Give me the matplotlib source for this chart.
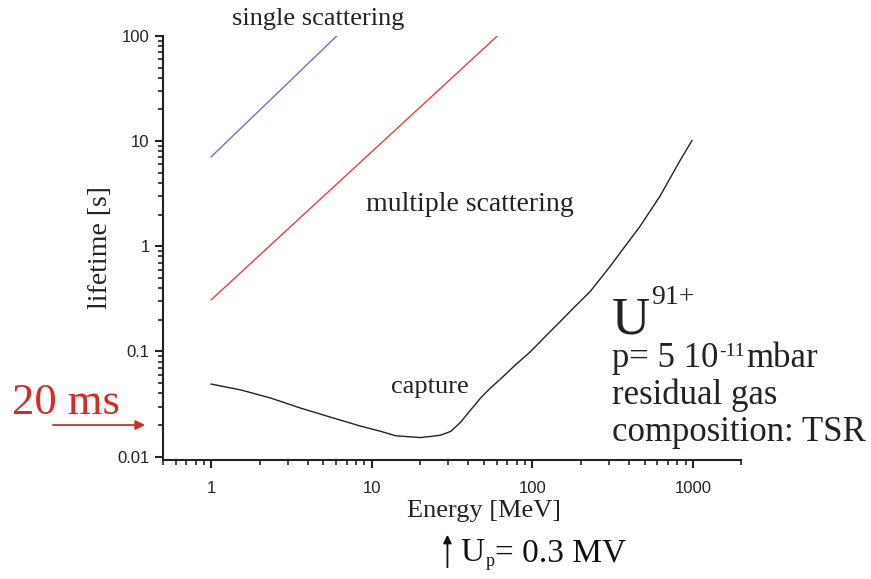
import numpy as np
import matplotlib.pyplot as plt
from matplotlib.ticker import LogLocator, FuncFormatter
import matplotlib.transforms as mtransforms

# energies [MeV] and lifetimes [s]
single_E = [1.0, 6.06]
single_tau = [7.1, 100.0]

multiple_E = [1.0, 60.6]
multiple_tau = [0.31, 100.0]

capture_E = [1.0, 1.54, 2.36, 3.62, 5.56, 8.55, 11.4, 14.1, 20.1, 26.8, 31.0,
             35.7, 41.2, 47.5, 54.8, 63.3, 78.4, 97.0, 120.0, 149.0, 184.0,
             229.0, 305.0, 378.0, 469.0, 624.0, 830.0, 986.0]
capture_tau = [0.049, 0.043, 0.036, 0.0289, 0.0237, 0.0195, 0.0174, 0.0158,
               0.0152, 0.0160, 0.0174, 0.0212, 0.0277, 0.036, 0.0449, 0.0547,
               0.0745, 0.099, 0.138, 0.192, 0.267, 0.371, 0.644, 1.0, 1.55,
               3.0, 6.5, 10.1]

serif = ['Liberation Serif', 'DejaVu Serif']
sans = ['Liberation Sans', 'DejaVu Sans']
plt.rcParams['font.family'] = sans

W, H = 871, 579
fig = plt.figure(figsize=(W / 100, H / 100), dpi=100)
ax = fig.add_axes([0.187, 0.2055, 0.664, 0.7325])

ax.plot(single_E, single_tau, color='#6677c4', lw=1.0)
ax.plot(multiple_E, multiple_tau, color='#e0443e', lw=1.0)
ax.plot(capture_E, capture_tau, color='#222222', lw=1.0)

ax.set_xscale('log')
ax.set_yscale('log')
ax.set_xlim(0.5, 2000)
ax.set_ylim(0.0093, 100)

ax.spines['top'].set_visible(False)
ax.spines['right'].set_visible(False)
for s in ['left', 'bottom']:
    ax.spines[s].set_linewidth(1.5)
    ax.spines[s].set_color('#222222')

ax.set_xticks([1, 10, 100, 1000])
ax.set_yticks([0.01, 0.1, 1, 10, 100])
ax.xaxis.set_minor_locator(LogLocator(base=10, subs=np.arange(2, 10)))
ax.yaxis.set_minor_locator(LogLocator(base=10, subs=np.arange(2, 10)))
fmt = FuncFormatter(lambda v, p: '%g' % v)
ax.xaxis.set_major_formatter(fmt)
ax.yaxis.set_major_formatter(fmt)
ax.tick_params(which='major', direction='out', length=6, width=1.5,
               labelsize=12, color='#222222', labelcolor='#222222')
ax.tick_params(which='minor', direction='out', length=3.5, width=1.2,
               color='#222222')
ax.tick_params(axis='x', pad=9)

ax.set_xlabel('Energy [MeV]', family=serif, fontsize=19, color='#222222')
ax.set_ylabel('lifetime [s]', family=serif, fontsize=20, color='#222222')
ax.xaxis.set_label_coords((484 - 163) / 578, -0.095)
ax.yaxis.set_label_coords((113 - 163) / 578, 0.5)


def ftext(x, y, s, size, **kw):
    # text placed in pixel coordinates of the picture (y from the top)
    kw.setdefault('color', '#222222')
    return fig.text(x / W, 1 - y / H, s, family=serif, fontsize=size,
                    ha=kw.pop('ha', 'left'), va=kw.pop('va', 'baseline'), **kw)


def chain(x, y, parts, color='#222222'):
    # pieces of text one after another; dy raises a piece (super/subscript)
    renderer = fig.canvas.get_renderer()
    for s, size, dy in parts:
        t = ftext(x, y - dy, s, size, color=color)
        x = t.get_window_extent(renderer).x1 + 1


ftext(318, 25, 'single scattering', 19, ha='center')
ftext(470, 211, 'multiple scattering', 20, ha='center')
ftext(430, 393, 'capture', 19, ha='center')

chain(612, 334, [('U', 38, 0), ('91+', 20, 30)])
chain(612, 367, [('p= 5 10', 25, 0), ('-11', 14, 11), ('mbar', 25, 0)])
ftext(612, 404, 'residual gas', 25)
ftext(612, 441, 'composition: TSR', 25)

# 20 ms marker
ftext(12, 414, '20 ms', 32, color='#d52b26')
ax.annotate('', xy=(-0.026, 0.02), xycoords=('axes fraction', 'data'),
            xytext=(-0.195, 0.02), textcoords=('axes fraction', 'data'),
            arrowprops=dict(arrowstyle='-|>', color='#d52b26', lw=1.3,
                            mutation_scale=14))

# Up = 0.3 MV marker
trans = mtransforms.blended_transform_factory(ax.transData, fig.transFigure)
ax.annotate('', xy=(29.6, 1 - 532 / H), xycoords=trans,
            xytext=(29.6, 1 - 570 / H), textcoords=trans,
            arrowprops=dict(arrowstyle='-|>', color='#111111', lw=1.3,
                            mutation_scale=12), annotation_clip=False)
chain(460, 561, [('U', 24, 0), ('p', 13, -5), ('= 0.3 MV', 24, 0)],
      color='#111111')

fig.savefig('out.png', dpi=100)
